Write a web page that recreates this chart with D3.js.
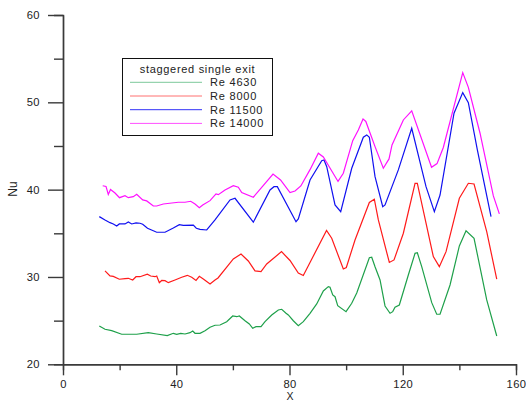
<!DOCTYPE html>
<html>
<head>
<meta charset="utf-8">
<script src="https://cdn.jsdelivr.net/npm/d3@7"></script>
<style>
  body { margin: 0; background: #fff; }
  text { font-family: "Liberation Sans", Arial, sans-serif; fill: #222; }
</style>
</head>
<body>
<div id="chart"></div>
<script>
// --------------------------------------
// Data
// --------------------------------------

const re4630 = [
  [12.82,24.39],[14.84,24.01],[17.20,23.85],[20.73,23.44],[26.03,23.44],[30.13,23.62],[33.10,23.47],
  [36.84,23.28],[38.96,23.55],[40.16,23.44],[41.58,23.55],[43.09,23.47],[44.86,23.62],[45.82,23.81],
  [46.63,23.55],[48.39,23.55],[50.16,23.85],[51.93,24.24],[53.69,24.47],[55.46,24.50],[57.82,24.88],
  [59.94,25.53],[61.36,25.45],[62.28,25.53],[64.29,24.99],[65.81,24.62],[67.01,24.12],[68.17,24.31],
  [69.94,24.31],[71.35,24.88],[73.72,25.65],[76.05,26.22],[77.25,26.30],[78.77,25.84],[79.58,25.65],
  [81.35,24.99],[83.11,24.42],[84.88,24.88],[87.25,25.84],[89.61,26.91],[91.95,28.40],[93.71,28.89],
  [94.31,28.82],[95.27,27.94],[96.08,27.74],[97.03,26.71],[99.97,26.03],[101.98,26.99],[103.75,28.17],
  [108.20,32.21],[109.04,32.26],[110.21,31.18],[111.98,29.66],[113.74,26.68],[115.51,25.84],[116.46,26.03],
  [117.27,26.53],[118.79,26.79],[121.97,30.23],[124.34,32.71],[125.15,32.78],[126.70,31.18],[130.24,27.06],
  [132.00,25.73],[133.17,25.73],[136.70,29.08],[139.99,33.55],[142.35,35.30],[145.18,34.43],[149.66,27.37],
  [153.20,23.24]
];

const re8000 = [
  [14.84,30.69],[16.60,30.12],[17.77,30.06],[19.89,29.74],[21.90,29.81],[23.07,29.85],[24.62,29.66],
  [25.79,30.03],[27.20,30.03],[29.78,30.31],[30.98,30.11],[32.50,30.03],[33.10,30.11],[34.02,29.35],
  [34.86,29.60],[36.03,29.58],[37.20,29.35],[39.56,29.66],[41.93,29.97],[43.91,30.19],[45.46,29.97],
  [46.98,29.60],[48.15,30.08],[49.56,29.77],[51.93,29.20],[53.69,29.66],[54.75,29.89],[60.16,32.06],
  [62.88,32.63],[65.45,31.83],[67.82,30.69],[69.94,30.61],[71.95,31.49],[77.18,32.90],[80.18,31.89],
  [83.11,30.46],[84.88,30.17],[93.08,35.33],[94.91,34.43],[99.01,30.92],[100.07,31.09],[103.14,34.24],
  [108.20,38.53],[109.96,38.90],[111.38,36.53],[115.26,31.66],[116.92,31.95],[120.21,35.01],[124.34,40.73],
  [125.15,40.73],[126.70,38.44],[130.80,32.33],[132.92,31.18],[135.29,32.90],[139.99,39.01],[143.17,40.73],
  [145.18,40.65],[149.66,35.19],[153.20,29.74]
];

const re11500 = [
  [12.82,36.91],[14.84,36.53],[16.60,36.22],[17.77,36.07],[18.97,35.84],[19.89,36.07],[21.90,36.07],
  [23.07,36.30],[24.27,36.07],[25.79,36.19],[27.20,36.15],[28.15,36.04],[29.85,35.58],[33.10,35.12],
  [36.03,35.12],[38.96,35.61],[41.08,35.99],[42.49,35.90],[46.03,35.93],[47.09,35.58],[48.39,35.46],
  [50.76,35.38],[53.69,36.53],[58.99,38.82],[60.76,39.01],[67.22,36.27],[73.12,39.97],[74.53,40.34],
  [75.70,40.34],[82.30,36.33],[83.11,36.64],[87.25,41.11],[91.38,43.32],[92.19,43.40],[93.15,42.63],
  [96.08,38.25],[98.09,37.48],[101.98,42.45],[106.08,46.00],[107.28,46.27],[108.20,46.00],[110.21,41.49],
  [112.93,38.05],[113.74,38.25],[118.44,42.26],[123.17,47.03],[128.22,40.34],[131.16,37.48],[133.17,39.39],
  [138.11,48.75],[141.19,51.11],[143.17,49.97],[146.35,44.55],[151.18,36.91]
];

const re14000 = [
  [14.02,40.45],[15.19,40.37],[16.00,39.45],[16.78,40.02],[18.37,39.62],[19.96,39.08],[21.90,39.31],
  [23.07,39.08],[24.83,39.20],[26.03,39.47],[28.15,38.82],[29.57,38.71],[31.90,38.13],[33.10,38.13],
  [35.43,38.36],[40.73,38.56],[43.09,38.56],[45.11,38.67],[46.63,38.36],[48.15,37.94],[49.35,38.25],
  [51.93,38.74],[54.04,39.51],[54.86,39.43],[57.22,39.97],[60.16,40.46],[61.92,40.28],[63.12,39.66],
  [67.22,39.13],[74.18,41.78],[76.83,41.11],[80.18,39.66],[81.95,39.85],[84.00,40.42],[87.25,42.29],
  [90.18,44.17],[91.95,43.75],[97.14,40.94],[99.01,41.88],[102.33,45.61],[104.31,46.84],[105.97,48.10],
  [106.96,47.81],[110.21,44.93],[113.14,42.45],[115.15,43.52],[116.21,45.12],[120.21,47.98],[123.17,49.02],
  [130.17,42.57],[132.11,42.98],[134.33,44.83],[141.19,53.40],[143.17,51.71],[147.30,46.46],[152.00,39.28],
  [154.12,37.22]
];

const seriesNames = ["Re 4630", "Re 8000", "Re 11500", "Re 14000"];
const seriesColors = ["#1ea04a", "#ff1a1a", "#1010f0", "#ff10ff"];
const legendColors = ["#7cc99a", "#ff7070", "#3030f8", "#ff50ff"];
const series = [re4630, re8000, re11500, re14000];

const xTicks = [0, 40, 80, 120, 160];
const xMinor = [20, 60, 100, 140];
const yTicks = [20, 30, 40, 50, 60];
const yMinor = [25, 35, 45, 55];

// --------------------------------------
// Canvas
// --------------------------------------

const width = 526, height = 402;
const margin = {top: 15, right: 10, bottom: 38, left: 63};
const innerwidth = 516 - margin.left;
const innerheight = 364.3 - margin.top;

const svg = d3.select("#chart")
  .append("svg")
    .attr("width", width)
    .attr("height", height);

const inner = svg.append("g")
    .attr("transform", `translate(${margin.left}, ${margin.top})`);

// --------------------------------------
// Scales
// --------------------------------------

const x = d3.scaleLinear([0, 160], [0, innerwidth]);
const y = d3.scaleLinear([20, 60], [innerheight, 0]);

// --------------------------------------
// Axes
// --------------------------------------

const axisColor = "#3a3a3a";

const styleAxis = g => {
  g.select(".domain").attr("stroke", axisColor).attr("stroke-width", 1.4);
  g.selectAll(".tick line").attr("stroke", axisColor).attr("stroke-width", 1.4);
  g.selectAll("text").attr("font-size", 11.2).attr("letter-spacing", 0.4).attr("fill", "#222");
};

// minor ticks first
inner.append("g")
    .attr("transform", `translate(0,${innerheight})`)
    .call(d3.axisBottom(x).tickValues(xMinor).tickSize(6).tickFormat(""))
    .call(styleAxis);

inner.append("g")
    .call(d3.axisLeft(y).tickValues(yMinor).tickSize(9).tickFormat(""))
    .call(styleAxis);

inner.append("g")
    .attr("transform", `translate(0,${innerheight})`)
    .call(d3.axisBottom(x).tickValues(xTicks).tickSize(11).tickSizeOuter(0).tickPadding(5))
    .call(styleAxis);

inner.append("g")
    .call(d3.axisLeft(y).tickValues(yTicks).tickSize(15).tickSizeOuter(0).tickPadding(8))
    .call(styleAxis);

svg.append("text")
    .attr("x", 290)
    .attr("y", 399.8)
    .attr("text-anchor", "middle")
    .attr("font-size", 10.5)
    .text("X");

svg.append("text")
    .attr("transform", "translate(17,189) rotate(-90)")
    .attr("text-anchor", "middle")
    .attr("font-size", 12)
    .text("Nu");

// --------------------------------------
// Lines
// --------------------------------------

const line = d3.line()
    .x(d => x(d[0]))
    .y(d => y(d[1]));

inner.selectAll("path.line")
  .data(series)
  .join("path")
    .attr("class", "line")
    .attr("fill", "none")
    .attr("stroke", (d, i) => seriesColors[i])
    .attr("stroke-width", 1.2)
    .attr("d", line);

// --------------------------------------
// Legend
// --------------------------------------

const legend = svg.append("g");

legend.append("rect")
    .attr("x", 122.5)
    .attr("y", 58.5)
    .attr("width", 150)
    .attr("height", 77)
    .attr("fill", "#fff")
    .attr("stroke", "#111")
    .attr("stroke-width", 1);

legend.append("text")
    .attr("x", 197.5)
    .attr("y", 72.5)
    .attr("text-anchor", "middle")
    .attr("font-size", 11)
    .attr("letter-spacing", 0.7)
    .text("staggered single exit");

const rows = legend.selectAll("g.row")
  .data(seriesNames)
  .join("g")
    .attr("class", "row")
    .attr("transform", (d, i) => `translate(0,${82.3 + i * 13.7})`);

rows.append("line")
    .attr("x1", 130)
    .attr("x2", 202)
    .attr("stroke", (d, i) => legendColors[i])
    .attr("stroke-width", 1);

rows.append("text")
    .attr("x", 210)
    .attr("y", 4)
    .attr("font-size", 11)
    .attr("letter-spacing", 0.8)
    .text(d => d);
</script>
</body>
</html>
